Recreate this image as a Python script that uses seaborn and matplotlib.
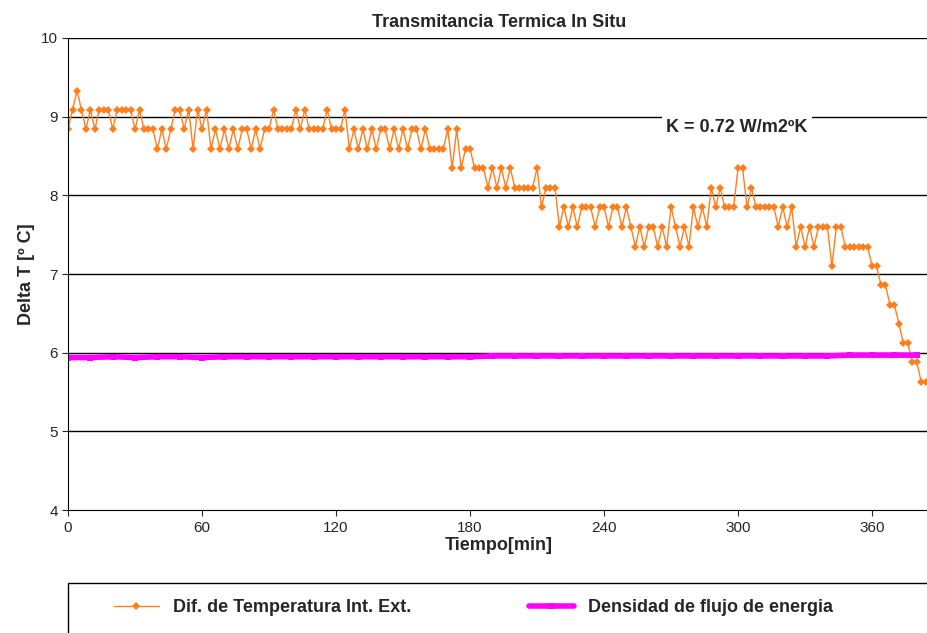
import matplotlib
matplotlib.use("Agg")
import matplotlib.pyplot as plt
import numpy as np
import pandas as pd
import seaborn as sns

# ── Datos ──
LEVELS = [5.63, 5.88, 6.12, 6.37, 6.61, 6.86, 7.10, 7.35, 7.60, 7.85,
          8.10, 8.35, 8.59, 8.84, 9.09, 9.33]
# índice de nivel cada 2 minutos (t = 0, 2, ..., 386)
DT_CODES = [
    13, 14, 15, 14, 13, 14, 13, 14, 14, 14, 13, 14, 14, 14, 14, 13, 14, 13,
    13, 13, 12, 13, 12, 13,
    14, 14, 13, 14, 12, 14, 13, 14,
    12, 13, 12, 13, 12, 13, 12, 13, 13, 12, 13, 12, 13, 13,
    14, 13, 13, 13, 13, 14, 13, 14, 13, 13, 13, 13, 14, 13, 13, 13, 14,
    12, 13, 12, 13, 12, 13, 12, 13, 13, 12, 13, 12, 13, 12, 13, 13, 12, 13, 12,
    12, 12, 12, 13, 11, 13, 11, 12, 12,
    11, 11, 11,
    10, 11, 10, 11, 10, 11,
    10, 10, 10, 10, 10, 11, 9, 10, 10, 10,
    8, 9, 8, 9, 8, 9, 9,
    9, 8, 9, 9, 8, 9, 9, 8, 9,
    8, 7, 8, 7, 8, 8,
    7, 8, 7, 9,
    8, 7, 8, 7,
    9, 8, 9, 8,
    10, 9, 10, 9, 9, 9,
    11, 11, 9, 10,
    9, 9, 9, 9, 9,
    8, 9, 8, 9,
    7, 8, 7,
    8, 7, 8, 8, 8, 6, 8, 8,
    7, 7, 7, 7, 7, 7,
    6, 6, 5, 5, 4, 4, 3, 2, 2, 1, 1, 0, 0, 0, 1,
]
DT_TIME = list(range(0, 2 * len(DT_CODES), 2))

FLUX_TIME = list(range(0, 390, 10))
FLUX_VALS = [5.94, 5.94, 5.95, 5.94, 5.95, 5.95, 5.94, 5.95, 5.95, 5.95,
             5.95, 5.95, 5.95, 5.95, 5.95, 5.95, 5.95, 5.95, 5.95, 5.96,
             5.96, 5.96, 5.96, 5.96, 5.96, 5.96, 5.96, 5.96, 5.96, 5.96,
             5.96, 5.96, 5.96, 5.96, 5.96, 5.97, 5.97, 5.97, 5.97]

X_TICKS = [0, 60, 120, 180, 240, 300, 360]

sns.set_style("white")
plt.rcParams["font.family"] = ["Liberation Sans", "DejaVu Sans"]

dt = pd.DataFrame({"t": DT_TIME, "v": [LEVELS[c] for c in DT_CODES]})
fx = pd.DataFrame({"t": FLUX_TIME, "v": FLUX_VALS})

fig = plt.figure(figsize=(9.27, 6.33), dpi=100)
ax = fig.add_axes([0.0734, 0.194, 0.93, 0.746])

for y in range(5, 11):
    ax.axhline(y, color="black", lw=1, zorder=0)

sns.lineplot(data=dt, x="t", y="v", ax=ax, color="#FF7F1E", lw=1,
             marker="D", markersize=4, markeredgewidth=0,
             label="Dif. de Temperatura Int. Ext.")
sns.lineplot(data=fx, x="t", y="v", ax=ax, color="#FF00FF", lw=4,
             marker="s", markersize=4, markeredgewidth=0,
             label="Densidad de flujo de energia")

ax.set_xlim(0, 386)
ax.set_ylim(4, 10)
ax.set_xticks(X_TICKS)
ax.set_yticks(range(4, 11))
ax.tick_params(axis="both", labelsize=11, length=4, direction="out", left=True, bottom=True)
for s in ["top", "right"]:
    ax.spines[s].set_visible(False)
for s in ["left", "bottom"]:
    ax.spines[s].set_color("black")
ax.set_xlabel("Tiempo[min]", fontsize=13, fontweight="bold", labelpad=2)
ax.set_ylabel("Delta T [º C]", fontsize=13, fontweight="bold")
ax.set_title("Transmitancia Termica In Situ", fontsize=13, fontweight="bold", pad=8)

ax.text(0.795, 0.798, "K = 0.72 W/m2ºK", transform=fig.transFigure,
        fontsize=13, fontweight="bold", ha="center", va="center",
        bbox=dict(facecolor="white", edgecolor="none", pad=3))

ax.legend_.remove()
h, l = ax.get_legend_handles_labels()
leg = fig.legend(h, l, loc="center left", bbox_to_anchor=(0.105, 0.04),
                 ncol=2, fontsize=13, frameon=False, handlelength=2.5,
                 handletextpad=0.8, columnspacing=6.5)
for t in leg.get_texts():
    t.set_fontweight("bold")
# recuadro de la leyenda
fig.patches.append(plt.Rectangle((0.0734, -0.05), 1.0, 0.129, transform=fig.transFigure,
                                 fill=False, edgecolor="black", lw=1))

fig.savefig("out.png", dpi=100)
